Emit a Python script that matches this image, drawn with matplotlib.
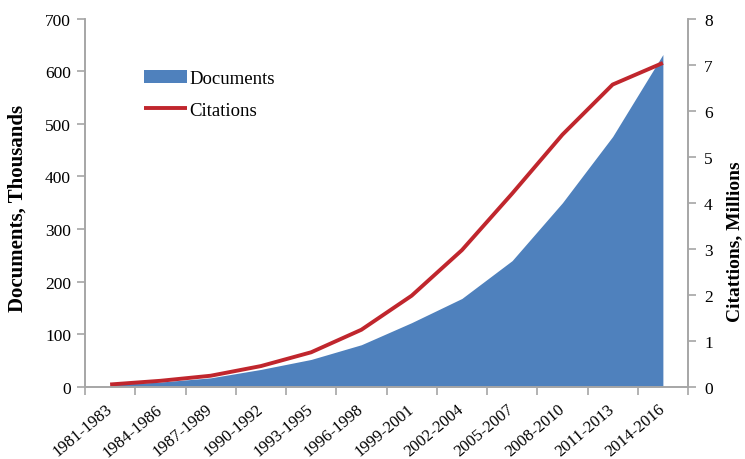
import matplotlib
matplotlib.use("Agg")
import matplotlib.pyplot as plt
import numpy as np

periods = ["1981-1983", "1984-1986", "1987-1989", "1990-1992", "1993-1995", "1996-1998",
           "1999-2001", "2002-2004", "2005-2007", "2008-2010", "2011-2013", "2014-2016"]
documents_thousands = [4, 9, 17, 33, 52, 80, 122, 168, 240, 350, 476, 632]
citations_millions = [0.05, 0.13, 0.24, 0.45, 0.75, 1.24, 1.98, 2.97, 4.2, 5.48, 6.57, 7.04]

plt.rcParams['font.family'] = ['Liberation Serif', 'DejaVu Serif']

blue = '#4F81BD'
red = '#C0262D'
grey = '#A6A6A6'

fig = plt.figure(figsize=(7.45, 4.6), dpi=100)
ax = fig.add_axes([0.1141, 0.157, 0.8094, 0.800])
x = np.arange(len(periods))

ax.fill_between(x, documents_thousands, 0, color=blue, linewidth=0, label='Documents')
ax.set_xlim(-0.5, len(periods) - 0.5)
ax.set_ylim(0, 700)
ax.set_yticks(np.arange(0, 701, 100))

ax2 = ax.twinx()
ax2.plot(x, citations_millions, color=red, linewidth=2.8, label='Citations', solid_capstyle='butt')
ax2.set_ylim(0, 8)
ax2.set_yticks(np.arange(0, 9, 1))

for a in (ax, ax2):
    a.spines['top'].set_visible(False)
    for s in ('left', 'right', 'bottom'):
        a.spines[s].set_color(grey)
        a.spines[s].set_linewidth(1.2)
    a.tick_params(axis='both', colors=grey, labelcolor='black', length=5.5, width=1.2, labelsize=12.5)
ax.tick_params(axis='y', pad=4.5)
ax2.tick_params(axis='y', pad=6)

ax.set_xticks(np.arange(-0.5, len(periods) + 0.5, 1))
ax.set_xticklabels([])
ax.set_xticks(x, minor=True)
ax.set_xticklabels(periods, minor=True, rotation=40, ha='right', va='center',
                   rotation_mode='anchor', fontsize=12)
ax.tick_params(axis='x', which='minor', length=0, pad=14.5)

ax.set_ylabel('Documents, Thousands', fontsize=15, fontweight='bold')
ax2.set_ylabel('Citattions, Millions', fontsize=14, fontweight='bold')
ax.yaxis.set_label_coords(-0.111, 0.486)
ax2.yaxis.set_label_coords(1.078, 0.397)
ax.yaxis.label.set_verticalalignment('center')
ax2.yaxis.label.set_verticalalignment('center')

h1, l1 = ax.get_legend_handles_labels()
h2, l2 = ax2.get_legend_handles_labels()
leg = ax2.legend(h1 + h2, l1 + l2, loc='upper left', bbox_to_anchor=(0.07, 0.906),
                 frameon=False, fontsize=13.5, handlelength=2.3, handletextpad=0.1,
                 labelspacing=0.75)

fig.savefig('out.png', dpi=100)
